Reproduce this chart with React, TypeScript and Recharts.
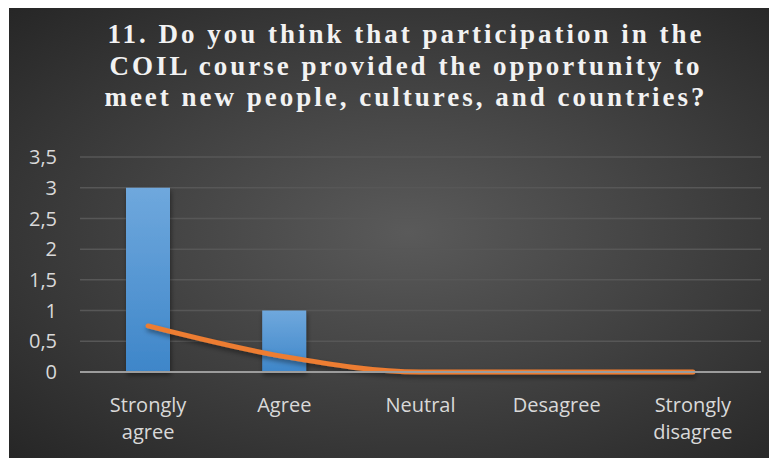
import React from "react";
import { ComposedChart, Bar, Line, XAxis, YAxis, CartesianGrid } from "recharts";

const categories = ["Strongly agree", "Agree", "Neutral", "Desagree", "Strongly disagree"];
const counts = [3, 1, 0, 0, 0];
const shares = [0.75, 0.25, 0, 0, 0];
const yTicks = [0, 0.5, 1, 1.5, 2, 2.5, 3, 3.5];
const titleLines = [
  "11. Do you think that participation in the",
  "COIL course provided the opportunity to",
  "meet new people, cultures, and countries?",
];

const data = categories.map((c, i) => ({ name: c, count: counts[i], share: shares[i] }));

const FONT = "'Open Sans', 'Noto Sans', sans-serif";
const TICK_COLOR = "#d9d9d9";

const XTick = (props: any) => {
  const { x, y, payload } = props;
  const words = String(payload.value).split(" ");
  return (
    <text x={x} y={y + 40} textAnchor="middle" fill={TICK_COLOR} fontFamily={FONT} fontSize={20}>
      {words.map((w, i) => (
        <tspan key={i} x={x} dy={i === 0 ? 0 : 27}>
          {w}
        </tspan>
      ))}
    </text>
  );
};

export default function App() {
  return (
    <div
      style={{
        position: "relative",
        width: 768,
        height: 451,
        marginLeft: 1,
        marginTop: -1,
        overflow: "hidden",
        background:
          "radial-gradient(ellipse farthest-corner at 52% 50%, #5a5a5a 0%, #434343 45%, #262626 100%)",
      }}
    >
      <div
        style={{
          position: "absolute",
          top: 12,
          left: 27,
          width: 740,
          textAlign: "center",
          fontFamily: "'Liberation Serif', 'Times New Roman', serif",
          fontWeight: "bold",
          fontSize: 27,
          letterSpacing: 3,
          lineHeight: "31.7px",
          color: "#f2f2f2",
          whiteSpace: "nowrap",
        }}
      >
        {titleLines.map((l, i) => (
          <div key={i}>{l}</div>
        ))}
      </div>
      <ComposedChart
        width={768}
        height={451}
        data={data}
        margin={{ top: 150, right: 16, left: 11, bottom: 26 }}
        style={{ position: "absolute", top: 0, left: 0 }}
      >
        <defs>
          <linearGradient id="barGrad" x1="0" y1="0" x2="0" y2="1">
            <stop offset="0%" stopColor="#6fa8dd" />
            <stop offset="100%" stopColor="#3e86c9" />
          </linearGradient>
          <filter id="shadow" x="-20%" y="-20%" width="140%" height="160%">
            <feDropShadow dx="1" dy="3" stdDeviation="2.5" floodColor="#000" floodOpacity="0.45" />
          </filter>
        </defs>
        <CartesianGrid vertical={false} stroke="#575757" strokeWidth={1.5} />
        <XAxis
          dataKey="name"
          interval={0}
          height={60}
          tickLine={false}
          tickSize={0}
          tickMargin={0}
          axisLine={{ stroke: "#9c9c9c", strokeWidth: 2 }}
          tick={<XTick />}
        />
        <YAxis
          width={60}
          domain={[0, 3.5]}
          ticks={yTicks}
          interval={0}
          axisLine={false}
          tickLine={false}
          tickSize={0}
          tickMargin={23}
          tickFormatter={(v: number) => String(v).replace(".", ",")}
          tick={{ fill: TICK_COLOR, fontFamily: FONT, fontSize: 20 }}
        />
        <Bar dataKey="count" barSize={44} fill="url(#barGrad)" filter="url(#shadow)" isAnimationActive={false} />
        <Line
          dataKey="share"
          type="monotone"
          stroke="#ed7d31"
          strokeWidth={5}
          strokeLinecap="round"
          dot={false}
          activeDot={false}
          filter="url(#shadow)"
          isAnimationActive={false}
        />
      </ComposedChart>
    </div>
  );
}
